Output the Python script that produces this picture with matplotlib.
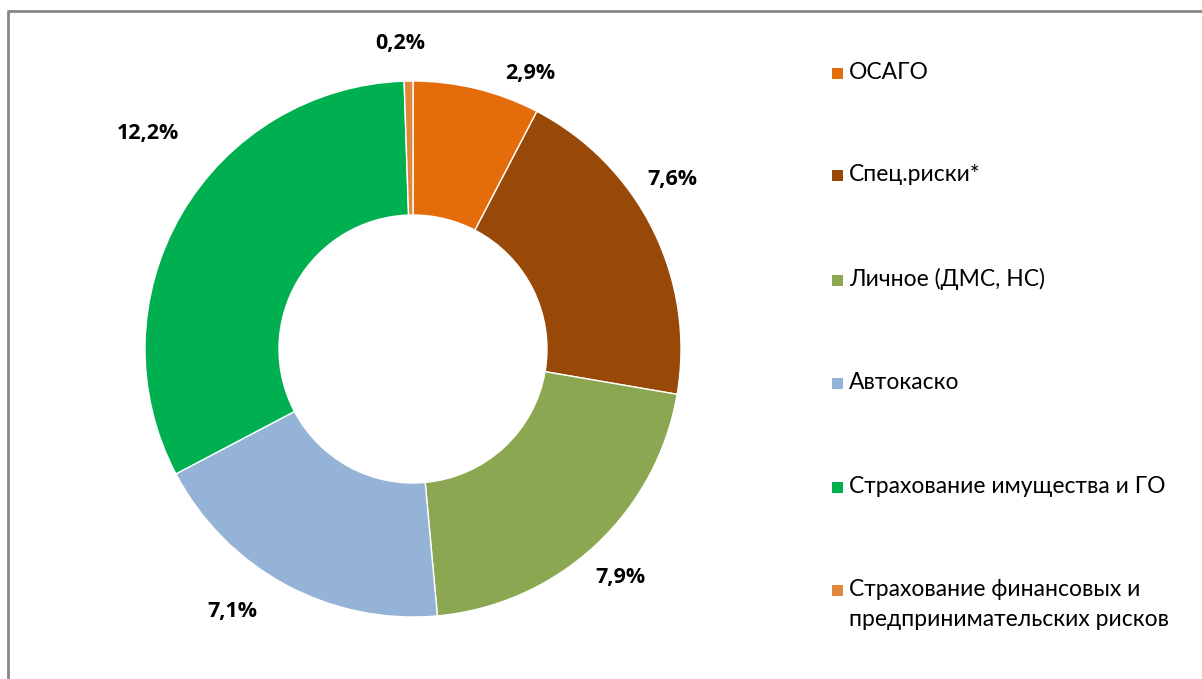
"""
    Donut chart: insurance lines growth
"""

import matplotlib
matplotlib.use("Agg")
import matplotlib.pyplot as plt
from matplotlib.lines import Line2D

plt.rcParams['font.family'] = ['Lato', 'Open Sans', 'DejaVu Sans']

categories = ['ОСАГО', 'Спец.риски*', 'Личное (ДМС, НС)', 'Автокаско',
              'Страхование имущества и ГО',
              'Страхование финансовых и\nпредпринимательских рисков']
values = [2.9, 7.6, 7.9, 7.1, 12.2, 0.2]
value_labels = ['2,9%', '7,6%', '7,9%', '7,1%', '12,2%', '0,2%']
colors = ['#E46C0A', '#984807', '#8BA751', '#95B3D7', '#00B050', '#E2873E']

# label anchor points, pixel coords from the top-left
label_pos = [(530, 74), (672, 180), (620, 578), (232, 612), (148, 133), (400, 43)]
legend_y = [73, 175, 280, 383, 487, 590]

W, H = 1202, 679
fig = plt.figure(figsize=(W / 100, H / 100), dpi=100)
ax = fig.add_axes([0, 0, 1, 1])

ax.pie(values, colors=colors, startangle=90, counterclock=False,
       center=(413, H - 349), radius=268, frame=True,
       wedgeprops=dict(width=134, edgecolor='white', linewidth=1))
ax.set_xlim(0, W)
ax.set_ylim(0, H)
ax.axis('off')

for (x, y), txt in zip(label_pos, value_labels):
    ax.text(x, H - y, txt, ha='center', va='center', fontsize=15.5,
            fontweight='bold', color='#000000',
            family=['Open Sans', 'DejaVu Sans'])

for y, cat, c in zip(legend_y, categories, colors):
    ax.add_patch(plt.Rectangle((832, H - y - 5.5), 11, 11, color=c, lw=0))
    # one text per line so the marker sits on the first line
    for i, line in enumerate(cat.split('\n')):
        ax.text(849, H - y - 6 - i * 30, line, ha='left', va='baseline',
                fontsize=16.5, color='#000000')

# chart border
fig.add_artist(Line2D([8 / W, 8 / W, 1], [0, 1 - 11 / H, 1 - 11 / H],
                      color='#888888', lw=2, transform=fig.transFigure))

fig.savefig('out.png', dpi=100)
